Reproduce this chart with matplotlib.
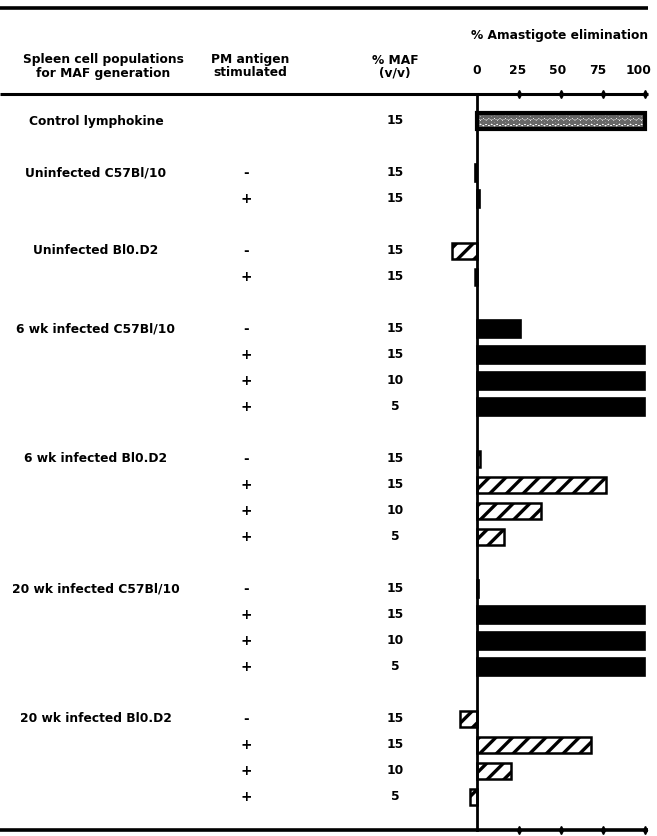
import matplotlib
matplotlib.use('Agg')
import matplotlib.pyplot as plt
import matplotlib.transforms as mtransforms

plt.rcParams['font.family'] = 'DejaVu Sans'
plt.rcParams['font.weight'] = 'bold'
plt.rcParams['hatch.linewidth'] = 2.4

groups = ['Control lymphokine', 'Uninfected C57Bl/10', 'Uninfected Bl0.D2',
          '6 wk infected C57Bl/10', '6 wk infected Bl0.D2',
          '20 wk infected C57Bl/10', '20 wk infected Bl0.D2']
pm_antigen = [[''], ['-', '+'], ['-', '+'], ['-', '+', '+', '+'],
              ['-', '+', '+', '+'], ['-', '+', '+', '+'], ['-', '+', '+', '+']]
maf_pct = [[15], [15, 15], [15, 15], [15, 15, 10, 5],
           [15, 15, 10, 5], [15, 15, 10, 5], [15, 15, 10, 5]]
elimination = [[100], [-1, 2], [-15, -1], [26, 100, 100, 100],
               [2, 77, 38, 16], [1, 100, 100, 100], [-10, 68, 20, -4]]
bar_style = ['dots', 'solid', 'hatch', 'solid', 'hatch', 'solid', 'hatch']
ticks = [0, 25, 50, 75, 100]

W, H = 657, 836
fig = plt.figure(figsize=(W / 100, H / 100), dpi=100)
ax = fig.add_axes([0, 0, 1, 1])
# x in % elimination, y in row slots (26 px each)
x0_px, px_per_unit = 477, 1.68
ax.set_xlim(-x0_px / px_per_unit, (W - x0_px) / px_per_unit)
ax.set_ylim((H - 121) / 26, -121 / 26)
ax.axis('off')

fx = mtransforms.blended_transform_factory(fig.transFigure, ax.transData)
def px(x):
    return x / W

fs = 8.8
slot = 0
for gi, name in enumerate(groups):
    if gi > 0:
        slot += 1
    ax.text(px(96), slot, name, transform=fx, ha='center', va='center', fontsize=fs)
    for pm, maf, val in zip(pm_antigen[gi], maf_pct[gi], elimination[gi]):
        ax.text(px(246), slot, pm, transform=fx, ha='center', va='center', fontsize=fs + 1)
        ax.text(px(395), slot, str(maf), transform=fx, ha='center', va='center', fontsize=fs)
        st = bar_style[gi]
        if st == 'solid':
            ax.barh(slot, val, height=0.66, color='black', edgecolor='black', linewidth=1.2)
        elif st == 'hatch':
            ax.barh(slot, val, height=0.62, color='white', edgecolor='black',
                    hatch='//', linewidth=1.8)
        else:
            ax.barh(slot, val, height=0.5, color='white', edgecolor='#666666',
                    hatch='ooo', linewidth=0)
            ax.barh(slot, val, height=0.62, fill=False, edgecolor='black', linewidth=3)
        slot += 1

y_head = (94 - 121) / 26
y_bot = (830 - 121) / 26
y_top = (8 - 121) / 26

# rules
ax.plot([-x0_px / px_per_unit, 102], [y_top, y_top], color='black', lw=2.6, solid_capstyle='butt')
ax.plot([-x0_px / px_per_unit, 102], [y_head, y_head], color='black', lw=2.2, solid_capstyle='butt')
ax.plot([-x0_px / px_per_unit, 102], [y_bot, y_bot], color='black', lw=2.6, solid_capstyle='butt')
ax.plot([0, 0], [y_head, y_bot], color='black', lw=2.0)
for y in (y_head, y_bot):
    ax.plot(ticks[1:], [y] * 4, linestyle='none', marker='d', color='black', markersize=4)

# headers
ax.text(px(103), (59 - 121) / 26, 'Spleen cell populations', transform=fx,
        ha='center', va='center', fontsize=fs)
ax.text(px(103), (73 - 121) / 26, 'for MAF generation', transform=fx,
        ha='center', va='center', fontsize=fs)
ax.text(px(250), (59 - 121) / 26, 'PM antigen', transform=fx,
        ha='center', va='center', fontsize=fs)
ax.text(px(250), (73 - 121) / 26, 'stimulated', transform=fx,
        ha='center', va='center', fontsize=fs)
ax.text(px(395), (60 - 121) / 26, '% MAF', transform=fx,
        ha='center', va='center', fontsize=fs)
ax.text(px(395), (73 - 121) / 26, '(v/v)', transform=fx,
        ha='center', va='center', fontsize=fs)
ax.text(px(560), (35 - 121) / 26, '% Amastigote elimination', transform=fx,
        ha='center', va='center', fontsize=fs)
for t in ticks:
    ax.text(t - t * 0.04, (71 - 121) / 26, str(t), ha='center', va='center', fontsize=fs)

fig.savefig('out.png', dpi=100)
